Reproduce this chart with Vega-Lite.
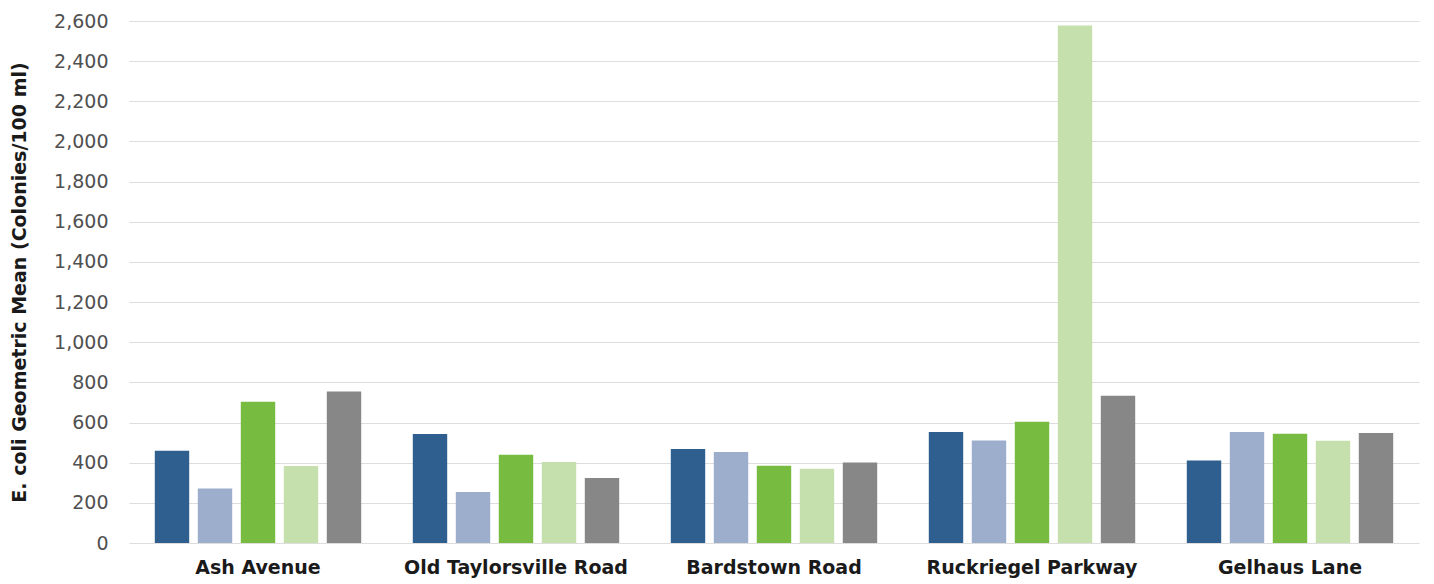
{
  "$schema": "https://vega.github.io/schema/vega-lite/v6.json",
  "width": 1290,
  "height": 522,
  "autosize": {"type": "none"},
  "padding": {"left": 129, "top": 21, "right": 15, "bottom": 41},
  "background": "white",
  "data": {
    "values": [
      {"site": "Ash Avenue", "series": "A", "value": 460},
      {"site": "Ash Avenue", "series": "B", "value": 272},
      {"site": "Ash Avenue", "series": "C", "value": 704},
      {"site": "Ash Avenue", "series": "D", "value": 383},
      {"site": "Ash Avenue", "series": "E", "value": 754},
      {"site": "Old Taylorsville Road", "series": "A", "value": 543},
      {"site": "Old Taylorsville Road", "series": "B", "value": 254},
      {"site": "Old Taylorsville Road", "series": "C", "value": 440},
      {"site": "Old Taylorsville Road", "series": "D", "value": 403},
      {"site": "Old Taylorsville Road", "series": "E", "value": 324},
      {"site": "Bardstown Road", "series": "A", "value": 468},
      {"site": "Bardstown Road", "series": "B", "value": 453},
      {"site": "Bardstown Road", "series": "C", "value": 385},
      {"site": "Bardstown Road", "series": "D", "value": 370},
      {"site": "Bardstown Road", "series": "E", "value": 401},
      {"site": "Ruckriegel Parkway", "series": "A", "value": 553},
      {"site": "Ruckriegel Parkway", "series": "B", "value": 511},
      {"site": "Ruckriegel Parkway", "series": "C", "value": 604},
      {"site": "Ruckriegel Parkway", "series": "D", "value": 2578},
      {"site": "Ruckriegel Parkway", "series": "E", "value": 733},
      {"site": "Gelhaus Lane", "series": "A", "value": 411},
      {"site": "Gelhaus Lane", "series": "B", "value": 553},
      {"site": "Gelhaus Lane", "series": "C", "value": 544},
      {"site": "Gelhaus Lane", "series": "D", "value": 509},
      {"site": "Gelhaus Lane", "series": "E", "value": 548}
    ]
  },
  "mark": {"type": "bar"},
  "encoding": {
    "x": {
      "field": "site",
      "type": "nominal",
      "sort": null,
      "scale": {"paddingInner": 0.2, "paddingOuter": 0.1},
      "axis": {
        "title": null,
        "labelAngle": 0,
        "labelLimit": 0,
        "ticks": false,
        "domain": false,
        "labelPadding": 15,
        "labelFont": "DejaVu Sans",
        "labelFontSize": 19,
        "labelFontWeight": "bold",
        "labelColor": "#1a1a1a"
      }
    },
    "xOffset": {
      "field": "series",
      "type": "nominal",
      "scale": {"paddingInner": 0.2, "paddingOuter": 0}
    },
    "y": {
      "field": "value",
      "type": "quantitative",
      "scale": {"domain": [0, 2600], "nice": false},
      "axis": {
        "title": "E. coli Geometric Mean (Colonies/100 ml)",
        "values": [0, 200, 400, 600, 800, 1000, 1200, 1400, 1600, 1800, 2000, 2200, 2400, 2600],
        "format": ",d",
        "ticks": false,
        "domain": false,
        "labelPadding": 21,
        "labelFont": "DejaVu Sans",
        "labelFontSize": 19,
        "labelColor": "#505050",
        "gridColor": "#dddddd",
        "gridWidth": 1,
        "titleFont": "DejaVu Sans",
        "titleFontSize": 19,
        "titleFontWeight": "bold",
        "titleColor": "#1a1a1a",
        "titlePadding": 24
      }
    },
    "color": {
      "field": "series",
      "type": "nominal",
      "scale": {"domain": ["A", "B", "C", "D", "E"], "range": ["#2e5f8f", "#9dadcc", "#77bb41", "#c6e0ad", "#878787"]},
      "legend": null
    }
  },
  "config": {"view": {"stroke": null}}
}
